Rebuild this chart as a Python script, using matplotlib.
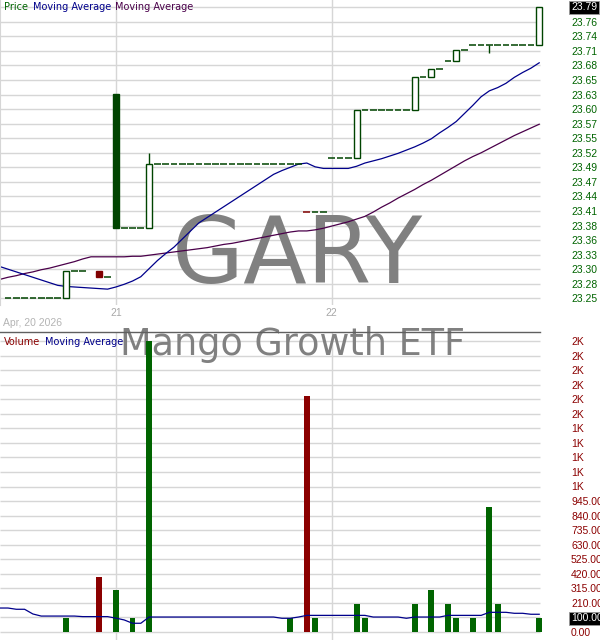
import numpy as np
import matplotlib.pyplot as plt
from matplotlib.patches import Rectangle
from matplotlib.transforms import blended_transform_factory

# 15-minute slots: Apr 20 (last 13), Apr 21 (26), Apr 22 (26)
slots = np.arange(65)
ma_slots = np.arange(-1, 65)
day_start_slots = [13, 39]
day_labels = ["21", "22"]
first_day_label = "Apr, 20 2026"

nan = np.nan
closes = ([23.25] * 7 + [23.30] * 3 + [nan] + [23.29] * 2 + [23.38] * 4 + [23.50] * 19
          + [23.41] * 3 + [23.51] * 3 + [23.60] * 7 + [23.66] * 2 + [23.675] * 2
          + [23.69] + [23.71] * 2 + [23.72] * 8 + [23.79])
opens = list(closes)
open_changes = {7: 23.25, 11: 23.30, 13: 23.63, 17: 23.38, 42: 23.51,
                49: 23.60, 51: 23.66, 54: 23.69, 64: 23.72}
wick_highs = {17: 23.52}
wick_lows = {58: 23.705}
for k, v in open_changes.items():
    opens[k] = v

volume = [0] * 65
volume_values = {7: 100, 11: 400, 13: 300, 15: 100, 17: 2100, 34: 100, 36: 1700,
                 37: 100, 42: 200, 43: 100, 49: 200, 51: 300, 53: 200, 54: 100,
                 56: 100, 58: 900, 59: 200, 64: 100}
for k, v in volume_values.items():
    volume[k] = v

ma_short = [23.309, 23.304, 23.299, 23.294, 23.289, 23.284, 23.279, 23.274, 23.272,
            23.271, 23.270, 23.269, 23.268, 23.267, 23.271, 23.276, 23.282, 23.290,
            23.305, 23.320, 23.333, 23.345, 23.360, 23.375, 23.390, 23.400, 23.410,
            23.420, 23.430, 23.440, 23.450, 23.460, 23.470, 23.480, 23.487, 23.493,
            23.499, 23.501, 23.494, 23.491, 23.491, 23.491, 23.491, 23.495, 23.501,
            23.505, 23.509, 23.514, 23.519, 23.525, 23.531, 23.538, 23.546, 23.557,
            23.567, 23.578, 23.593, 23.608, 23.624, 23.635, 23.641, 23.649, 23.660,
            23.669, 23.677, 23.687]
ma_long = [23.285, 23.289, 23.292, 23.296, 23.299, 23.303, 23.306, 23.310, 23.314,
           23.318, 23.323, 23.327, 23.327, 23.327, 23.327, 23.327, 23.328, 23.328,
           23.330, 23.332, 23.334, 23.336, 23.338, 23.340, 23.342, 23.344, 23.347,
           23.350, 23.352, 23.355, 23.358, 23.361, 23.364, 23.367, 23.370, 23.373,
           23.375, 23.375, 23.377, 23.380, 23.384, 23.388, 23.392, 23.397, 23.402,
           23.410, 23.419, 23.427, 23.436, 23.444, 23.452, 23.461, 23.469, 23.478,
           23.487, 23.496, 23.505, 23.513, 23.520, 23.528, 23.536, 23.544, 23.552,
           23.559, 23.566, 23.573]
vol_ma = [173, 173, 164, 164, 130, 115, 115, 115, 115, 115, 111, 111, 111, 111, 100,
          87, 63, 63, 108, 108, 108, 108, 108, 108, 108, 108, 108, 108, 108, 108, 108,
          108, 108, 108, 99, 99, 108, 120, 120, 120, 120, 120, 120, 120, 120, 108, 108,
          108, 108, 99, 108, 108, 108, 108, 120, 120, 120, 120, 120, 142, 142, 142, 135,
          135, 128, 128]

price_ticks = np.linspace(23.25, 23.79, 21)
price_tick_labels = ["23.25", "23.28", "23.30", "23.33", "23.36", "23.38", "23.41",
                     "23.44", "23.47", "23.49", "23.52", "23.55", "23.57", "23.60",
                     "23.63", "23.65", "23.68", "23.71", "23.74", "23.76", "23.79"]
vol_ticks = np.arange(0, 2101, 105)
vol_tick_labels = ["0.00", "105.00", "210.00", "315.00", "420.00", "525.00", "630.00",
                   "735.00", "840.00", "945.00", "1K", "1K", "1K", "1K", "1K", "2K",
                   "2K", "2K", "2K", "2K", "2K"]

GREEN = "#004400"
RED = "#800000"
GRID = "#d6d6d6"
W, H = 600, 640

fig = plt.figure(figsize=(W / 100, H / 100), dpi=100)
ax = fig.add_axes([0, 1 - 305 / H, 546 / W, 305 / H])
axv = fig.add_axes([0, 0, 546 / W, 308 / H])

slot_px, slot0_px = 8.3, 8.0
xlim = (-slot0_px / slot_px, (546 - slot0_px) / slot_px)
grid_end = (540 - slot0_px) / slot_px
for a in (ax, axv):
    a.set_xlim(*xlim)
    a.set_facecolor("white")
    for s in a.spines.values():
        s.set_visible(False)

# price scale: 23.25 at px 298.3, 23.79 at px 7.3
ps = 291 / 0.54
ax.set_ylim(23.25 - (305 - 298.3) / ps, 23.79 + 7.3 / ps)
vs = 291 / 2100
axv.set_ylim(-(640 - 632) / vs, 2100 + (341 - 332) / vs)

ax.hlines(price_ticks, xlim[0], grid_end, color=GRID, lw=1, zorder=0.5)
axv.hlines(vol_ticks, xlim[0], grid_end, color=GRID, lw=1, zorder=0.5)
for d in day_start_slots:
    ax.axvline(d, color=GRID, lw=1, zorder=0.5)
    axv.axvline(d, color=GRID, lw=1, zorder=0.5)
ax.spines["left"].set_visible(True)
ax.spines["left"].set_color(GRID)

# candles
prev = None
bar_colors = []
for i in slots:
    o, c = opens[i], closes[i]
    if np.isnan(c):
        bar_colors.append(GREEN)
        continue
    col = RED if (prev is not None and c < prev) else GREEN
    bar_colors.append(col)
    top, bot = max(o, c), min(o, c)
    if o == c:
        ax.hlines(c, i - 0.4, i + 0.4, color=col, lw=1.1, zorder=3)
    else:
        face = col if c < o else "white"
        ax.add_patch(Rectangle((i - 0.36, bot), 0.72, top - bot, facecolor=face,
                               edgecolor=col, lw=1.0, zorder=3))
    if i in wick_highs:
        ax.vlines(i, top, wick_highs[i], color=col, lw=1.0, zorder=3)
    if i in wick_lows:
        ax.vlines(i, wick_lows[i], bot, color=col, lw=1.0, zorder=3)
    prev = c

ax.plot(ma_slots, ma_long, color="#4a004a", lw=0.9, zorder=2)
ax.plot(ma_slots, ma_short, color="#00008b", lw=0.9, zorder=2)

# volume
vol_colors = ["#8b0000" if c == RED else "#006400" for c in bar_colors]
axv.bar(slots, volume, width=0.72, color=vol_colors, zorder=2)
axv.plot(ma_slots, vol_ma, color="#00008b", lw=0.9, zorder=3)
axv.plot([0, 540 / 546], [1, 1], transform=axv.transAxes, color="#606060",
         lw=1, clip_on=False, zorder=4)

# axes labels
tick_font = dict(family="Liberation Sans", size=7.5)
ax.yaxis.tick_right()
ax.set_yticks(price_ticks, price_tick_labels, color="#006400", **tick_font)
ax.tick_params(axis="y", length=0, pad=18)
axv.yaxis.tick_right()
axv.set_yticks(vol_ticks, vol_tick_labels, color="#8b0000", **tick_font)
axv.tick_params(axis="y", length=0, pad=18)
ax.set_xticks(day_start_slots, day_labels, color="#a8a8a8", **tick_font)
ax.tick_params(axis="x", length=0, pad=2)
axv.set_xticks([])

for a, val, txt in [(ax, closes[-1], f"{closes[-1]:.2f}"),
                    (axv, volume[-1], f"{volume[-1]:.2f}")]:
    a.annotate(txt, xy=(1, val), xycoords=("axes fraction", "data"),
               xytext=(18, 0), textcoords="offset points", va="center", ha="left",
               color="white", fontfamily="Liberation Sans", fontsize=7.5, zorder=10,
               annotation_clip=False,
               bbox=dict(boxstyle="square,pad=0.15", fc="black", ec="#999999", lw=0.6))

fig.text(3 / W, 1 - 323 / H, first_day_label, color="#b4b4b4", va="center",
         ha="left", **tick_font)

# watermarks
ax.text(297 / 546, 1 - 282.5 / 305, "GARY", transform=ax.transAxes, ha="center",
        va="baseline", fontsize=67, color="#808080", family="DejaVu Sans", zorder=1)
axv.text(292 / 546, 1 - (355 - 332) / 308, "Mango Growth ETF", transform=axv.transAxes,
         ha="center", va="baseline", fontsize=26.3, color="#808080",
         family="DejaVu Sans", zorder=1, clip_on=False)

# legends
leg = dict(fontsize=7, family="DejaVu Sans", va="baseline", zorder=20)
fig.text(4 / W, 1 - 10.5 / H, "Price", color="#006400", **leg)
fig.text(33 / W, 1 - 10.5 / H, "Moving Average", color="#00008b", **leg)
fig.text(115 / W, 1 - 10.5 / H, "Moving Average", color="#4a004a", **leg)
fig.text(4 / W, 1 - 345 / H, "Volume", color="#8b0000", **leg)
fig.text(45 / W, 1 - 345 / H, "Moving Average", color="#00008b", **leg)

fig.savefig("out.png", dpi=100)
